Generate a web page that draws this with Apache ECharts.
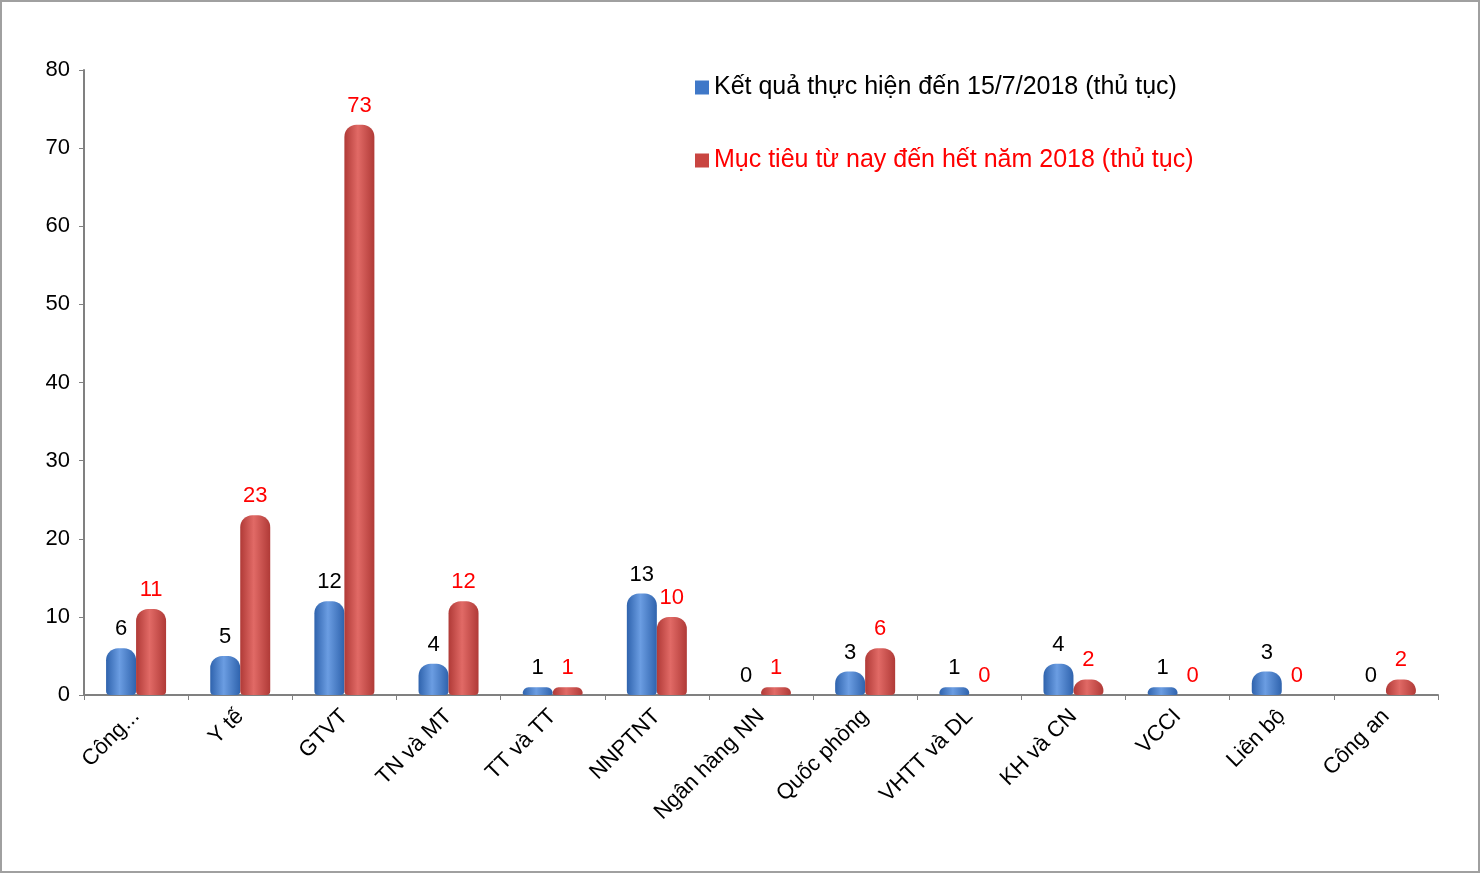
<!DOCTYPE html>
<html>
<head>
<meta charset="utf-8">
<script src="https://cdn.jsdelivr.net/npm/echarts@6/dist/echarts.min.js"></script>
<style>
  html, body { margin: 0; padding: 0; background: #fff; }
  #chart { width: 1476px; height: 869px; border: 2px solid #a0a0a0; }
</style>
</head>
<body>
<div id="chart"></div>
<script>
var categories = ['Công...', 'Y tế', 'GTVT', 'TN và MT', 'TT và TT', 'NNPTNT', 'Ngân hàng NN',
    'Quốc phòng', 'VHTT và DL', 'KH và CN', 'VCCI', 'Liên bộ', 'Công an'];
var ketQua = [6, 5, 12, 4, 1, 13, 0, 3, 1, 4, 1, 3, 0];
var mucTieu = [11, 23, 73, 12, 1, 10, 1, 6, 0, 2, 0, 0, 2];
var yTicks = { min: 0, max: 80, interval: 10 };

var chart = echarts.init(document.getElementById('chart'));

function cyl(dark, light) {
    return new echarts.graphic.LinearGradient(0, 0, 1, 0, [
        { offset: 0, color: dark },
        { offset: 0.45, color: light },
        { offset: 1, color: dark }
    ]);
}

var option = {
    backgroundColor: '#fff',
    textStyle: { fontFamily: 'Liberation Sans, Arial, sans-serif' },
    legend: {
        orient: 'vertical',
        left: 688,
        top: 68,
        itemGap: 48,
        itemWidth: 14,
        itemHeight: 14,
        icon: 'rect',
        textStyle: { fontSize: 25 },
        data: [
            { name: 'Kết quả thực hiện đến 15/7/2018 (thủ tục)', textStyle: { color: '#000' } },
            { name: 'Mục tiêu từ nay đến hết năm 2018 (thủ tục)', textStyle: { color: '#ff0000' } }
        ]
    },
    grid: { left: 82, right: 40, top: 68, bottom: 176 },
    xAxis: {
        type: 'category',
        data: categories,
        axisLine: { lineStyle: { color: '#808080', width: 2 } },
        axisTick: { show: true, alignWithLabel: false, lineStyle: { color: '#808080' } },
        axisLabel: { rotate: 45, fontSize: 22, color: '#000', interval: 0, margin: 18 }
    },
    yAxis: {
        type: 'value',
        min: yTicks.min,
        max: yTicks.max,
        interval: yTicks.interval,
        splitLine: { show: false },
        axisLine: { show: true, lineStyle: { color: '#808080', width: 2 } },
        axisTick: { show: true, lineStyle: { color: '#808080' } },
        axisLabel: { fontSize: 22, color: '#000', margin: 14 }
    },
    series: [
        {
            name: 'Kết quả thực hiện đến 15/7/2018 (thủ tục)',
            type: 'bar',
            data: ketQua,
            barWidth: 30,
            barGap: '0%',
            itemStyle: { color: cyl('#2f63ad', '#6b9de2'), borderRadius: [12, 12, 4, 4] },
            label: { show: true, position: 'top', fontSize: 22, color: '#000', distance: 8 }
        },
        {
            name: 'Mục tiêu từ nay đến hết năm 2018 (thủ tục)',
            type: 'bar',
            data: mucTieu,
            barWidth: 30,
            itemStyle: { color: cyl('#b03a37', '#e16a66'), borderRadius: [12, 12, 4, 4] },
            label: { show: true, position: 'top', fontSize: 22, color: '#ff0000', distance: 8 }
        }
    ]
};
option.legend.data[0].itemStyle = { color: '#3f78c8' };
option.legend.data[1].itemStyle = { color: '#c94541' };

chart.setOption(option);
</script>
</body>
</html>
